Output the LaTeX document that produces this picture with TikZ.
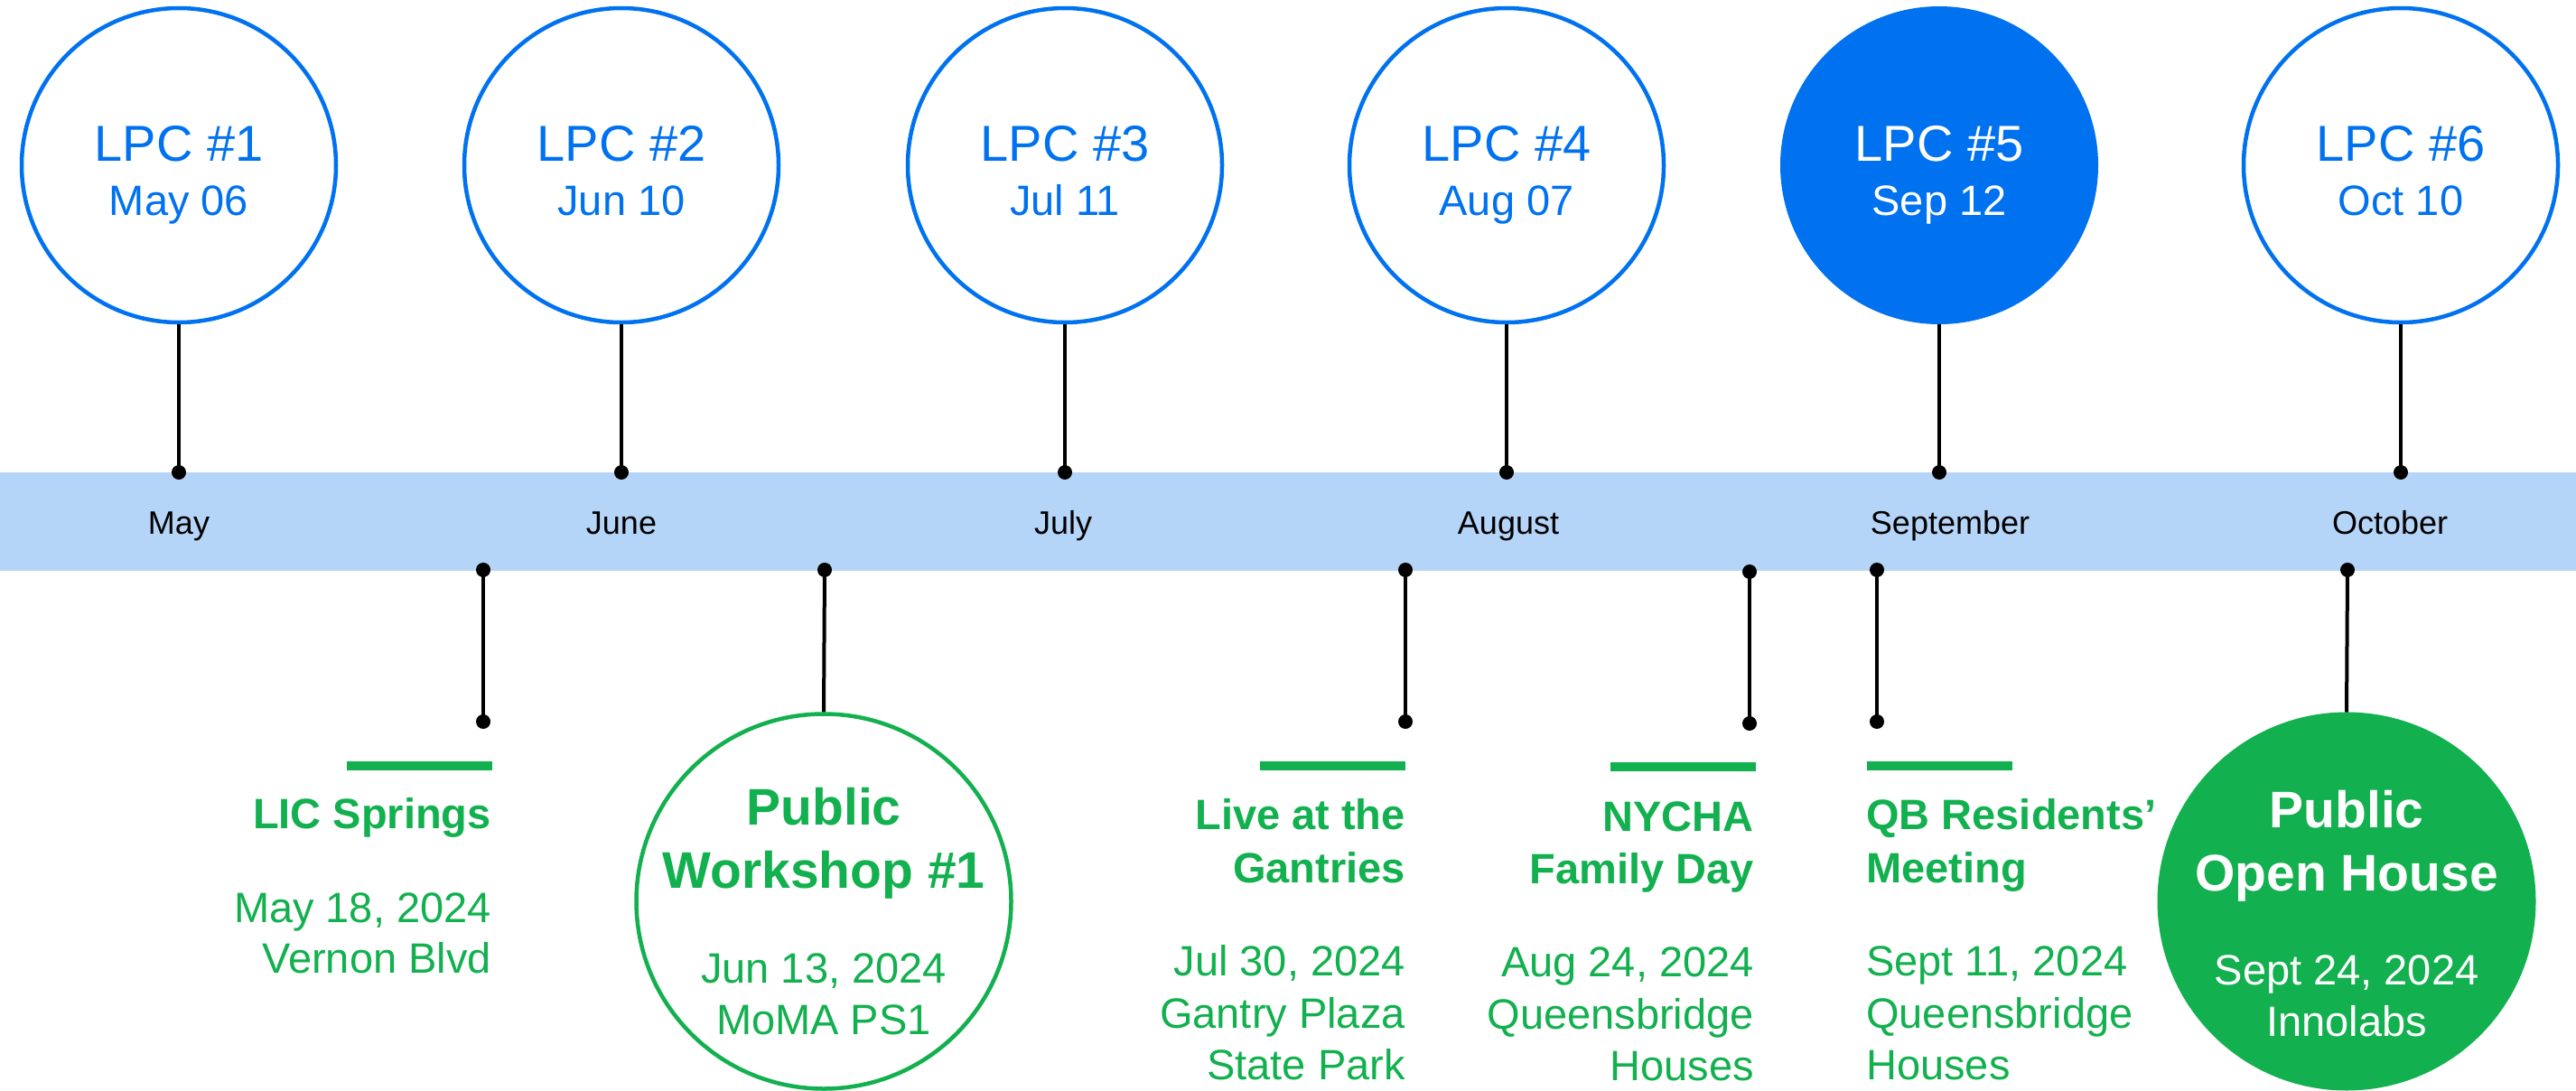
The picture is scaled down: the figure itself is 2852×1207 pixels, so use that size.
\documentclass[tikz,border=0pt]{standalone}
\usepackage{fontspec}
\setmainfont{Liberation Sans}
\definecolor{lpcblue}{RGB}{0,114,240}
\definecolor{evgreen}{RGB}{18,176,78}
\definecolor{bandblue}{RGB}{181,213,248}
\definecolor{dotdark}{RGB}{0,0,0}
\tikzset{
  lpc/.style={circle,draw=lpcblue,line width=4.5pt,minimum size=348pt,inner sep=0pt},
  lpcfull/.style={circle,fill=lpcblue,minimum size=352pt,inner sep=0pt},
  lpctitle/.style={anchor=base,inner sep=0pt,font=\fontsize{56}{60}\selectfont},
  lpcdate/.style={anchor=base,inner sep=0pt,font=\fontsize{47}{50}\selectfont},
  monthlbl/.style={anchor=base,inner sep=0pt,font=\fontsize{36}{40}\selectfont,text=black},
  band/.style={rectangle,fill=bandblue,minimum width=2852pt,minimum height=109pt,inner sep=0pt},
  pin/.style={circle,fill=dotdark,minimum size=16pt,inner sep=0pt},
  stem/.style={draw=black,line width=4pt},
  gbar/.style={rectangle,fill=evgreen,minimum width=161pt,minimum height=10pt,inner sep=0pt},
  evtitle/.style={inner sep=0pt,text=evgreen,font=\fontsize{47}{50}\selectfont\bfseries},
  evtext/.style={inner sep=0pt,text=evgreen,font=\fontsize{47}{50}\selectfont},
  bigev/.style={circle,line width=4.5pt,minimum size=415pt,inner sep=0pt},
  bigtitle/.style={anchor=base,inner sep=0pt,font=\fontsize{57}{60}\selectfont\bfseries},
  bigtext/.style={anchor=base,inner sep=0pt,font=\fontsize{47}{50}\selectfont},
}
\begin{document}
\begin{tikzpicture}[x=1pt,y=-1pt]
\useasboundingbox (0,0) rectangle (2852,1207);
% band
\node[band] (band) at (1426,577.5) {};
% month labels
\node[monthlbl] (mMay) at (198,591) {May};
\node[monthlbl] (mJun) at (688,591) {June};
\node[monthlbl] (mJul) at (1177,591) {July};
\node[monthlbl] (mAug) at (1670,591) {August};
\node[monthlbl] (mSep) at (2159,591) {September};
\node[monthlbl] (mOct) at (2646,591) {October};
% LPC circles
\node[lpc] (c1) at (198,183) {};
\node[lpc] (c2) at (688,183) {};
\node[lpc] (c3) at (1179,183) {};
\node[lpc] (c4) at (1668,183) {};
\node[lpcfull] (c5) at (2147,183) {};
\node[lpc] (c6) at (2658,183) {};
\node[lpctitle,text=lpcblue] (t1) at (198,178) {LPC \#1};
\node[lpcdate,text=lpcblue] (s1) at (198,238) {May 06};
\node[lpctitle,text=lpcblue] (t2) at (688,178) {LPC \#2};
\node[lpcdate,text=lpcblue] (s2) at (688,238) {Jun 10};
\node[lpctitle,text=lpcblue] (t3) at (1179,178) {LPC \#3};
\node[lpcdate,text=lpcblue] (s3) at (1179,238) {Jul 11};
\node[lpctitle,text=lpcblue] (t4) at (1668,178) {LPC \#4};
\node[lpcdate,text=lpcblue] (s4) at (1668,238) {Aug 07};
\node[lpctitle,text=white] (t5) at (2147,178) {LPC \#5};
\node[lpcdate,text=white] (s5) at (2147,238) {Sep 12};
\node[lpctitle,text=lpcblue] (t6) at (2658,178) {LPC \#6};
\node[lpcdate,text=lpcblue] (s6) at (2658,238) {Oct 10};
% upper pins
\node[pin] (p1) at (198,523) {};
\node[pin] (p2) at (688,523) {};
\node[pin] (p3) at (1179,523) {};
\node[pin] (p4) at (1668,523) {};
\node[pin] (p5) at (2147,523) {};
\node[pin] (p6) at (2658,523) {};
\foreach \i in {1,...,6}{\draw[stem] (c\i.south) -- (p\i.center);}
% lower pins
\node[pin] (q1) at (535,631) {};
\node[pin] (r1) at (535,799) {};
\node[pin] (q2) at (913,631) {};
\node[pin] (q3) at (1556,631) {};
\node[pin] (r3) at (1556,799) {};
\node[pin] (q4) at (1937,633) {};
\node[pin] (r4) at (1937,801) {};
\node[pin] (q5) at (2078,631) {};
\node[pin] (r5) at (2078,799) {};
\node[pin] (q6) at (2599,631) {};
% green circles
\node[bigev,draw=evgreen,fill=white] (w1) at (912,998) {};
\node[bigev,fill=evgreen,minimum size=419pt,line width=0pt] (oh) at (2598,998) {};
\draw[stem] (q1.center) -- (r1.center);
\draw[stem] (q2.center) -- (w1.north);
\draw[stem] (q3.center) -- (r3.center);
\draw[stem] (q4.center) -- (r4.center);
\draw[stem] (q5.center) -- (r5.center);
\draw[stem] (q6.center) -- (oh.north);
% green bars
\node[gbar] (b1) at (464,848) {};
\node[gbar] (b3) at (1475.5,848) {};
\node[gbar] (b4) at (1863,849) {};
\node[gbar] (b5) at (2147,848) {};
% LIC Springs
\node[evtitle,anchor=base east] (e1a) at (544,917) {LIC Springs};
\node[evtext,anchor=base east] (e1b) at (544,1021) {May 18, 2024};
\node[evtext,anchor=base east] (e1c) at (544,1077) {Vernon Blvd};
% Public Workshop #1
\node[bigtitle,text=evgreen] (w1a) at (912,913) {Public};
\node[bigtitle,text=evgreen] (w1b) at (912,983) {Workshop \#1};
\node[bigtext,text=evgreen] (w1c) at (912,1088) {Jun 13, 2024};
\node[bigtext,text=evgreen] (w1d) at (912,1145) {MoMA PS1};
% Live at the Gantries
\node[evtitle,anchor=base east] (e3a) at (1556,918) {Live at the};
\node[evtitle,anchor=base east] (e3b) at (1556,977) {Gantries};
\node[evtext,anchor=base east] (e3c) at (1556,1080) {Jul 30, 2024};
\node[evtext,anchor=base east] (e3d) at (1556,1138) {Gantry Plaza};
\node[evtext,anchor=base east] (e3e) at (1556,1195) {State Park};
% NYCHA Family Day
\node[evtitle,anchor=base east] (e4a) at (1942,920) {NYCHA};
\node[evtitle,anchor=base east] (e4b) at (1942,978) {Family Day};
\node[evtext,anchor=base east] (e4c) at (1942,1081) {Aug 24, 2024};
\node[evtext,anchor=base east] (e4d) at (1942,1139) {Queensbridge};
\node[evtext,anchor=base east] (e4e) at (1942,1196) {Houses};
% QB Residents' Meeting
\node[evtitle,anchor=base west] (e5a) at (2066,918) {QB Residents’};
\node[evtitle,anchor=base west] (e5b) at (2066,977) {Meeting};
\node[evtext,anchor=base west] (e5c) at (2066,1080) {Sept 11, 2024};
\node[evtext,anchor=base west] (e5d) at (2066,1138) {Queensbridge};
\node[evtext,anchor=base west] (e5e) at (2066,1195) {Houses};
% Public Open House
\node[bigtitle,text=white] (oha) at (2598,916) {Public};
\node[bigtitle,text=white] (ohb) at (2598,986) {Open House};
\node[bigtext,text=white] (ohc) at (2598,1090) {Sept 24, 2024};
\node[bigtext,text=white] (ohd) at (2598,1147) {Innolabs};
\end{tikzpicture}
\end{document}
